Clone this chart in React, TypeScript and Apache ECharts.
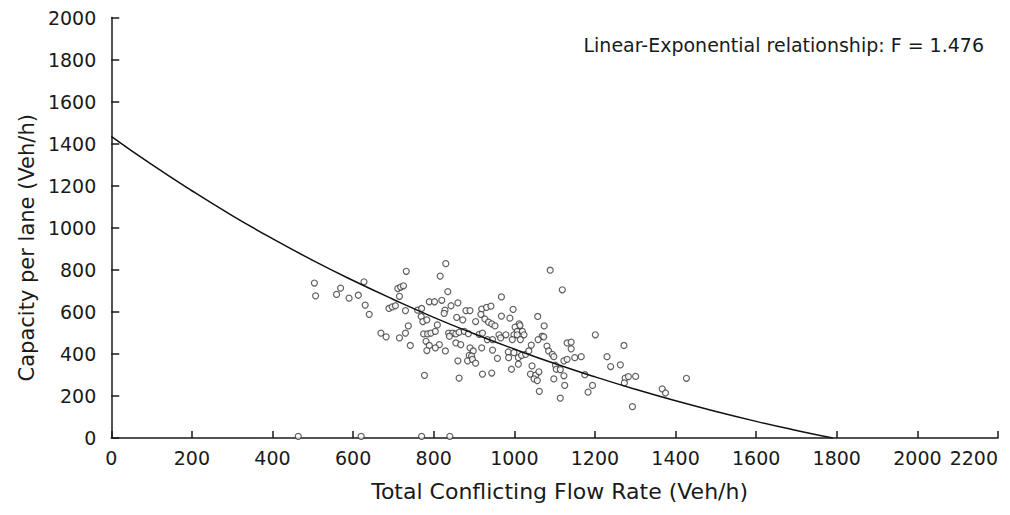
import React, { useEffect, useRef } from "react";
import * as echarts from "echarts";

// Observed capacity points: [total conflicting flow (veh/h), capacity per lane (veh/h)]
const observedFlow: number[] = [
  504, 507, 569, 559, 590, 613, 627, 630, 640, 732, 711, 718, 725, 715, 689, 697, 705, 730, 760, 770,
  789, 769, 773, 783, 737, 730, 669, 715, 775, 785, 793, 682, 742, 781, 789, 783, 777,
  830, 816, 1089, 835, 820, 802, 843, 860, 828, 826, 857, 872, 880, 890, 904, 919, 931, 942, 917,
  927, 936, 944, 952, 968, 997, 968, 989, 1012, 1002, 1007, 1020, 1014, 1058, 1074, 1119, 809, 804,
  837, 847, 855, 863, 876, 886, 913, 921, 999, 1024, 1069, 962,
  839, 814, 804, 829, 855, 867, 890, 898, 888, 894, 884, 896, 904, 860, 863, 921, 944, 919, 946, 958,
  933, 946, 966, 979, 995, 1007, 1015, 985, 999, 986, 1010, 1018, 1028, 1036, 993, 1010, 1044, 1042,
  1059, 1073, 1081, 1085, 1094, 1098, 1102, 1104, 1114, 1040, 1053, 1061, 1049, 1057, 1098, 1062, 1114,
  1201, 1131, 1141, 1141, 1123, 1131, 1150, 1166, 1230, 1272, 1239, 1263, 1123, 1125, 1175, 1194, 1183,
  1275, 1283, 1301, 1273, 1293, 1367, 1375, 1427,
  464, 620, 770, 840,
];
const observedCapacity: number[] = [
  737, 676, 713, 683, 665, 679, 743, 632, 588, 793, 711, 718, 724, 674, 616, 624, 629, 606, 608, 616,
  648, 578, 554, 562, 533, 499, 499, 476, 495, 495, 499, 481, 440, 460, 440, 416, 298,
  829, 770, 798, 696, 655, 648, 629, 643, 608, 593, 574, 562, 606, 606, 554, 613, 621, 627, 588,
  566, 551, 543, 533, 671, 612, 580, 570, 543, 527, 507, 507, 535, 578, 533, 705, 538, 507,
  499, 499, 495, 503, 507, 496, 493, 499, 491, 491, 484, 491,
  484, 444, 429, 414, 452, 444, 429, 414, 393, 390, 367, 374, 356, 367, 285, 304, 309, 429, 418, 379,
  468, 468, 476, 491, 468, 491, 468, 409, 406, 382, 382, 393, 398, 414, 327, 351, 343, 442,
  468, 481, 437, 414, 398, 387, 346, 327, 325, 304, 299, 315, 281, 273, 281, 222, 190,
  491, 452, 456, 424, 367, 374, 382, 387, 387, 440, 340, 348, 296, 250, 301, 250, 218,
  285, 292, 293, 262, 149, 234, 214, 284,
  8, 8, 8, 8,
];

// Fitted linear-exponential curve
const curveFlow: number[] = [0, 100, 200, 300, 400, 500, 600, 700, 800, 900, 1000, 1100, 1200, 1300, 1400, 1500, 1600, 1700, 1790];
const curveCapacity: number[] = [1435, 1301, 1176, 1058, 948, 845, 749, 659, 574, 496, 423, 354, 291, 232, 177, 126, 79, 36, 0];

const annotationText = "Linear-Exponential relationship: F = 1.476";
const xAxisTitle = "Total Conflicting Flow Rate (Veh/h)";
const yAxisTitle = "Capacity per lane (Veh/h)";

export default function App() {
  const ref = useRef<HTMLDivElement>(null);
  useEffect(() => {
    if (!ref.current) return;
    const chart = echarts.init(ref.current, undefined, { renderer: "svg" });
    const font = "'DejaVu Sans', sans-serif";
    const ink = "#1a1a1a";
    const scatterData = observedFlow.map((x, i) => [x, observedCapacity[i]]);
    const curveData = curveFlow.map((x, i) => [x, curveCapacity[i]]);
    chart.setOption({
      animation: false,
      backgroundColor: "#ffffff",
      textStyle: { fontFamily: font },
      grid: { left: 99, right: 4, top: 7, bottom: 65 },
      graphic: [
        {
          type: "text",
          right: 18,
          top: 27,
          style: { text: annotationText, fontSize: 19, fontFamily: font, fill: ink },
        },
      ],
      xAxis: {
        type: "value",
        min: 0,
        max: 2200,
        interval: 200,
        name: xAxisTitle,
        nameLocation: "middle",
        nameGap: 42,
        nameTextStyle: { fontSize: 22, color: ink, fontFamily: font, padding: [0, 0, 0, 10] },
        axisLine: { lineStyle: { color: ink, width: 1.5 } },
        axisTick: { inside: true, length: 7, lineStyle: { color: ink, width: 1.5 } },
        axisLabel: {
          fontSize: 19,
          color: ink,
          margin: 10,
          alignMaxLabel: "right",
          fontFamily: font,
          formatter: (v: number) => String(v),
        },
        splitLine: { show: false },
      },
      yAxis: {
        type: "value",
        min: 0,
        max: 2000,
        interval: 200,
        name: yAxisTitle,
        nameLocation: "middle",
        nameGap: 72,
        nameTextStyle: { fontSize: 21, color: ink, fontFamily: font, padding: [0, 40, 0, 0] },
        axisLine: { show: true, lineStyle: { color: ink, width: 1.5 } },
        axisTick: { show: true, inside: true, length: 8, lineStyle: { color: ink, width: 1.5 } },
        axisLabel: { fontSize: 19, color: ink, margin: 15, fontFamily: font, formatter: (v: number) => String(v) },
        splitLine: { show: false },
      },
      series: [
        {
          type: "scatter",
          data: scatterData,
          symbol: "circle",
          symbolSize: 6,
          itemStyle: { color: "#ffffff", borderColor: "#3a3a3a", borderWidth: 1.2 },
          z: 2,
        },
        {
          type: "line",
          data: curveData,
          smooth: true,
          showSymbol: false,
          symbol: "none",
          lineStyle: { color: "#111111", width: 1.5 },
          z: 3,
        },
      ],
    });
    return () => chart.dispose();
  }, []);
  return <div ref={ref} style={{ width: 994, height: 499 }} />;
}
